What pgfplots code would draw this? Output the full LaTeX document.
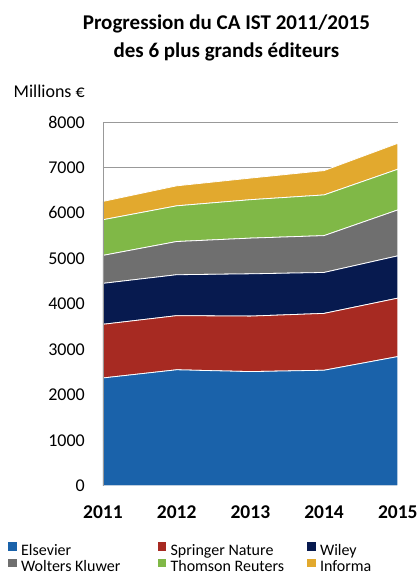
\documentclass[border=0pt]{standalone}
\usepackage{fontspec}
\setmainfont{Carlito}
\usepackage{pgfplots}
\usepackage{pgfplotstable}
\pgfplotsset{compat=1.18}

\definecolor{cEls}{HTML}{1A62AA}
\definecolor{cSpr}{HTML}{A72A22}
\definecolor{cWil}{HTML}{071A4F}
\definecolor{cWol}{HTML}{6F6F6F}
\definecolor{cTho}{HTML}{80B847}
\definecolor{cInf}{HTML}{E2A92E}

% CA par editeur (millions EUR), valeurs non cumulees
\pgfplotstableread{
year els  spr  wil wol  tho inf
2011 2370 1180 900 615  784 403
2012 2550 1190 900 730  785 440
2013 2510 1220 930 785  845 475
2014 2540 1250 900 810  895 535
2015 2840 1285 930 1010 895 570
}\ca

\begin{document}
\begin{tikzpicture}
\begin{axis}[
    scale only axis,
    width=295pt, height=364pt,
    xmin=2011, xmax=2015,
    ymin=0, ymax=8000,
    stack plots=y,
    clip mode=individual,
    axis x line=none,
    axis y line=left,
    axis line style={draw=gray!80, line width=0.7pt, -},
    ymajorgrids=true,
    grid style={gray!80, line width=0.7pt},
    major tick length=0pt,
    xtick={2011,2012,2013,2014,2015},
    xticklabels={2011,2012,2013,2014,2015},
    ytick={0,1000,2000,3000,4000,5000,6000,7000,8000},
    yticklabels={0,1000,2000,3000,4000,5000,6000,7000,8000},
    yticklabel style={font=\fontsize{18}{20}\selectfont, inner sep=0pt, xshift=-18pt},
    title={Progression du CA IST 2011/2015\\des 6 plus grands éditeurs},
    title style={font=\bfseries\fontsize{21}{28}\selectfont, align=center, inner sep=0pt, at={(0.5,1)}, anchor=south, xshift=-24pt, yshift=55pt},
    legend columns=3,
    legend cell align=left,
    legend style={draw=none, fill=none, inner sep=0pt, at={(rel axis cs:0,0)}, anchor=west, xshift=-95pt, yshift=-72pt,
        font=\fontsize{16}{18}\selectfont, nodes={inner sep=0pt}, row sep=2pt},
    legend image code/.code={\fill[#1, draw=none] (0pt,-0.5pt) rectangle (8.5pt,8pt);},
    every axis plot/.append style={draw=white, line width=0.8pt},
    after end axis/.code={
        \draw[gray!80, line width=0.7pt] (rel axis cs:0,0) -- (rel axis cs:0,1);
        \foreach \yr/\xx in {2011/0,2012/0.25,2013/0.5,2014/0.75,2015/1}
            {\node[font=\bfseries\fontsize{19.5}{20}\selectfont, anchor=north, inner sep=0pt] at (rel axis cs:\xx,0) [yshift=-20pt] {\yr};}
        \node[font=\fontsize{18}{20}\selectfont, anchor=east, inner sep=0pt] at (rel axis cs:0,1) [xshift=-18pt, yshift=31pt] {Millions €};
        \path (rel axis cs:0,0) ++(-103pt,-87pt) rectangle ++(419pt,573pt);
    },
]
\addplot[fill=cEls] table[x=year, y=els] {\ca} \closedcycle;
\addlegendentry{\makebox[141pt][l]{\hspace{4.5pt}Elsevier}}
\addplot[fill=cSpr] table[x=year, y=spr] {\ca} \closedcycle;
\addlegendentry{\makebox[141pt][l]{\hspace{4.5pt}Springer Nature}}
\addplot[fill=cWil] table[x=year, y=wil] {\ca} \closedcycle;
\addlegendentry{\makebox[90pt][l]{\hspace{4.5pt}Wiley}}
\addplot[fill=cWol] table[x=year, y=wol] {\ca} \closedcycle;
\addlegendentry{\makebox[141pt][l]{\hspace{4.5pt}Wolters Kluwer}}
\addplot[fill=cTho] table[x=year, y=tho] {\ca} \closedcycle;
\addlegendentry{\makebox[141pt][l]{\hspace{4.5pt}Thomson Reuters}}
\addplot[fill=cInf] table[x=year, y=inf] {\ca} \closedcycle;
\addlegendentry{\makebox[90pt][l]{\hspace{4.5pt}Informa}}
\end{axis}
\end{tikzpicture}
\end{document}
